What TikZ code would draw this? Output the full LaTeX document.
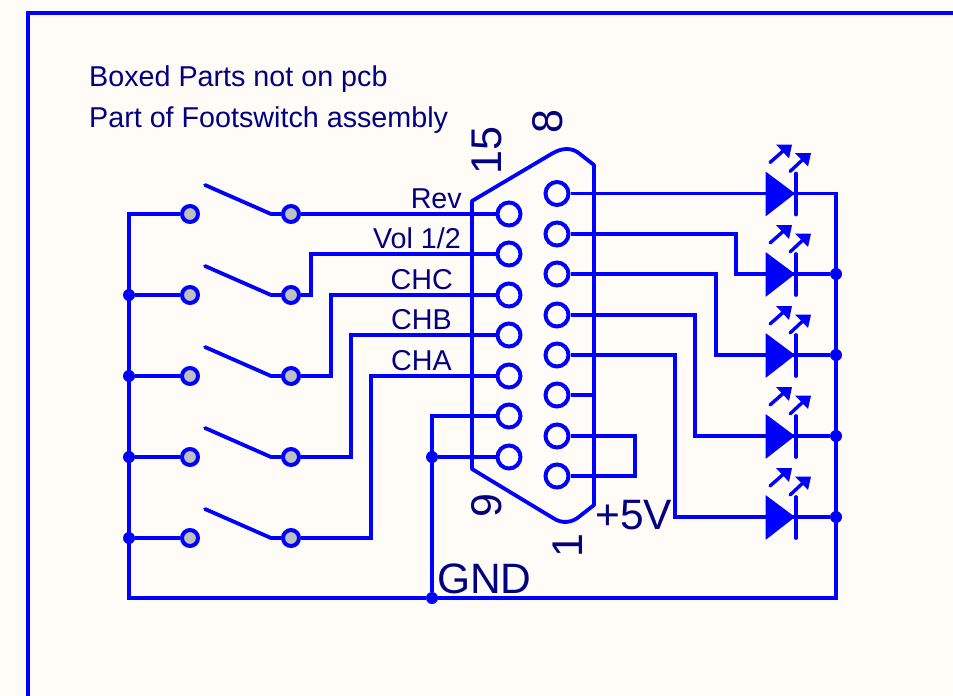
\documentclass[tikz,border=0pt]{standalone}
\usepackage{fontspec}
\setmainfont{Liberation Sans}
\definecolor{wire}{RGB}{0,0,255}
\definecolor{txt}{RGB}{0,0,128}
\definecolor{paper}{RGB}{255,252,247}
\definecolor{pinfill}{RGB}{192,192,192}
\tikzset{
  wireline/.style={draw=wire,line width=3.8pt,line join=miter},
  swpin/.style={circle,draw=wire,line width=4pt,fill=pinfill,minimum size=16pt,inner sep=0pt},
  conpin/.style={circle,draw=wire,line width=4pt,minimum size=23pt,inner sep=0pt},
  dotnode/.style={circle,fill=wire,minimum size=12pt,inner sep=0pt},
  lab/.style={text=txt,inner sep=0pt,font=\fontsize{28.7}{28.7}\selectfont},
  biglab/.style={text=txt,inner sep=0pt,font=\fontsize{42.5}{42.5}\selectfont},
  rotlab/.style={text=txt,inner sep=0pt,rotate=90,anchor=base west,font=\fontsize{43}{43}\selectfont},
  ledpic/.pic={
    \fill[wire,rounded corners=0.6pt] (-29.5,-22) -- (0,0) -- (-29.5,23) -- cycle;
    \draw[wire,line width=3.8pt,line cap=round] (1,-20) -- (1,21);
    \draw[wire,line width=3.4pt,line cap=round] (-25,-31) -- (-8,-46);
    \fill[wire] (-19,-49) -- (-3,-49) -- (-6,-35) -- cycle;
    \draw[wire,line width=3.4pt,line cap=round] (-5,-22) -- (11,-37);
    \fill[wire] (0,-40.5) -- (16,-40.5) -- (13,-27) -- cycle;
  }
}
\begin{document}
\begin{tikzpicture}[x=1pt,y=-1pt]
\useasboundingbox (0,0) rectangle (953,696);
\fill[paper] (0,0) rectangle (953,696);
\draw[wireline] (28,696) -- (28,13) -- (953,13);

% switch pins
\foreach \n/\y in {1/214,2/295,3/376,4/457,5/538}{
  \node[swpin] (l\n) at (190,\y) {};
  \node[swpin] (r\n) at (291,\y) {};
  \coordinate (hinge\n) at (271,\y);
  \coordinate (tip\n) at (205,\y-29);
  \draw[wire,line width=3.8pt,line cap=round,line join=round] (tip\n) -- (hinge\n) -- (r\n);
}
% connector
\draw[wireline,line join=round] (472,201) -- (553,153) .. controls (562,148) and (572,147) .. (580,154) -- (594,165) -- (594,505) -- (580,516) .. controls (572,523) and (562,524) .. (553,518) -- (472,469) -- cycle;
\foreach \n/\y in {1/214,2/254,3/295,4/335,5/376,6/416,7/457}
  \node[conpin] (a\n) at (509,\y) {};
\foreach \n/\y in {1/193.5,2/234,3/274,4/315,5/355,6/395,7/436,8/476}
  \node[conpin] (b\n) at (557,\y) {};
% junctions
\foreach \n/\y in {2/274,3/355,4/436,5/517}
  \node[dotnode] (jr\n) at (836,\y) {};
\foreach \n/\y in {2/295,3/376,4/457,5/538}
  \node[dotnode] (jl\n) at (129,\y) {};
\node[dotnode] (jg1) at (432,457) {};
\node[dotnode] (jg2) at (432,598) {};
% LEDs
\foreach \n/\y in {1/193.5,2/274,3/355,4/436,5/517}{
  \coordinate (led\n) at (795,\y);
  \pic at (led\n) {ledpic};
}
% wiring
\draw[wireline] (l1) -- (129,214) coordinate (c1) -- (jg2 -| c1) -- (jg2) ;
\draw[wireline] (jg2) -- (836,598) coordinate (c2) -- (c2 |- led1) -- (led1);
\foreach \n in {2,3,4,5}{
  \draw[wireline] (jl\n) -- (l\n);
  \draw[wireline] (led\n) -- (jr\n);
}
\draw[wireline] (r1) -- (a1);
\draw[wireline] (r2) -- ++(20,0) |- (a2);
\draw[wireline] (r3) -- ++(40,0) |- (a3);
\draw[wireline] (r4) -- ++(60,0) |- (a4);
\draw[wireline] (r5) -- ++(80,0) |- (a5);
\draw[wireline] (jg2) |- (a6);
\draw[wireline] (jg1) -- (a7);
\draw[wireline] (b1) -- (led1);
\draw[wireline] (b2) -| (736,274) -- (led2);
\draw[wireline] (b3) -| (716,355) -- (led3);
\draw[wireline] (b4) -| (695,436) -- (led4);
\draw[wireline] (b5) -| (675,517) -- (led5);
\draw[wireline] (b6) -- (b6 -| 594,0);
\draw[wireline] (b7) -| (635,476) -- (b8);
% text
\node[lab,anchor=base west] (t1) at (89,86) {Boxed Parts not on pcb};
\node[lab,anchor=base west] (t2) at (89,127) {Part of Footswitch assembly};
\node[lab,anchor=base east] (t3) at (462,208) {Rev};
\node[lab,anchor=base east] (t4) at (461,248) {Vol 1/2};
\node[lab,anchor=base east] (t5) at (453,289) {CHC};
\node[lab,anchor=base east] (t6) at (452,329) {CHB};
\node[lab,anchor=base east] (t7) at (452,370) {CHA};
\node[biglab,anchor=base west] (t8) at (595,529) {+5V};
\node[biglab,anchor=base west] (t9) at (437,593) {GND};
\node[rotlab] (t10) at (501,175) {15};
\node[rotlab] (t11) at (562,134) {8};
\node[rotlab] (t12) at (501,518) {9};
\node[rotlab] (t13) at (582,558) {1};
\end{tikzpicture}
\end{document}
